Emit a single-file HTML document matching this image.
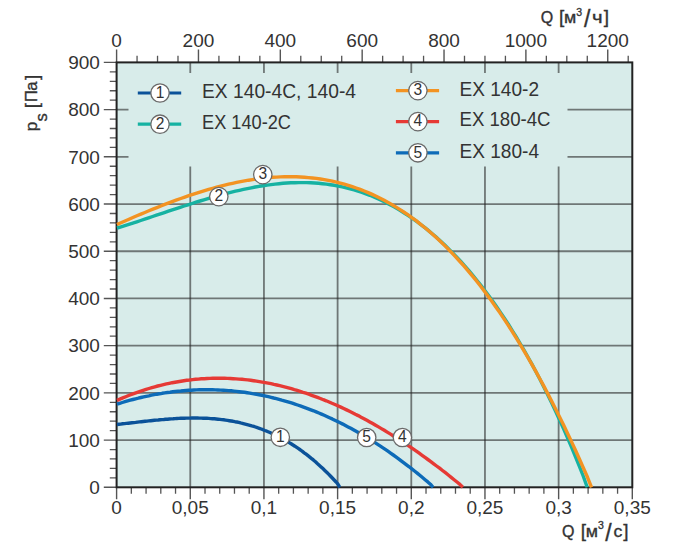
<!DOCTYPE html>
<html><head><meta charset="utf-8"><title>Fan curves EX</title>
<style>html,body{margin:0;padding:0;background:#fff;}svg{display:block;}</style>
</head><body>
<svg width="682" height="556" viewBox="0 0 682 556">
<rect x="0" y="0" width="682" height="556" fill="#fff"/>
<rect x="116.6" y="62.4" width="515.70" height="424.90" fill="#d8ecea"/>
<path d="M190.27,62.40V487.30M263.94,62.40V487.30M337.61,62.40V487.30M411.29,62.40V487.30M484.96,62.40V487.30M558.63,62.40V487.30" stroke="#222" stroke-opacity="0.58" stroke-width="1.8" fill="none"/>
<path d="M116.60,440.09H632.30M116.60,392.88H632.30M116.60,345.67H632.30M116.60,298.46H632.30M116.60,251.24H632.30M116.60,204.03H632.30M116.60,156.82H632.30M116.60,109.61H632.30" stroke="#222" stroke-opacity="0.58" stroke-width="1.8" fill="none"/>
<rect x="128.5" y="73" width="439.0" height="93.5" fill="#d8ecea"/>
<path d="M109.8,477.86H116.60M109.8,468.42H116.60M109.8,458.97H116.60M109.8,449.53H116.60M109.8,430.65H116.60M109.8,421.20H116.60M109.8,411.76H116.60M109.8,402.32H116.60M109.8,383.44H116.60M109.8,373.99H116.60M109.8,364.55H116.60M109.8,355.11H116.60M109.8,336.22H116.60M109.8,326.78H116.60M109.8,317.34H116.60M109.8,307.90H116.60M109.8,289.01H116.60M109.8,279.57H116.60M109.8,270.13H116.60M109.8,260.69H116.60M109.8,241.80H116.60M109.8,232.36H116.60M109.8,222.92H116.60M109.8,213.48H116.60M109.8,194.59H116.60M109.8,185.15H116.60M109.8,175.71H116.60M109.8,166.26H116.60M109.8,147.38H116.60M109.8,137.94H116.60M109.8,128.50H116.60M109.8,119.05H116.60M109.8,100.17H116.60M109.8,90.73H116.60M109.8,81.28H116.60M109.8,71.84H116.60M131.33,487.30V493.8M146.07,487.30V493.8M160.80,487.30V493.8M175.54,487.30V493.8M205.01,487.30V493.8M219.74,487.30V493.8M234.47,487.30V493.8M249.21,487.30V493.8M278.68,487.30V493.8M293.41,487.30V493.8M308.15,487.30V493.8M322.88,487.30V493.8M352.35,487.30V493.8M367.08,487.30V493.8M381.82,487.30V493.8M396.55,487.30V493.8M426.02,487.30V493.8M440.75,487.30V493.8M455.49,487.30V493.8M470.22,487.30V493.8M499.69,487.30V493.8M514.43,487.30V493.8M529.16,487.30V493.8M543.89,487.30V493.8M573.36,487.30V493.8M588.10,487.30V493.8M602.83,487.30V493.8M617.57,487.30V493.8M137.06,55.8V62.40M157.53,55.8V62.40M177.99,55.8V62.40M218.92,55.8V62.40M239.39,55.8V62.40M259.85,55.8V62.40M300.78,55.8V62.40M321.24,55.8V62.40M341.71,55.8V62.40M382.64,55.8V62.40M403.10,55.8V62.40M423.56,55.8V62.40M464.49,55.8V62.40M484.96,55.8V62.40M505.42,55.8V62.40M546.35,55.8V62.40M566.81,55.8V62.40M587.28,55.8V62.40M628.21,55.8V62.40" stroke="#555" stroke-width="1.3" fill="none"/>
<path d="M103.8,487.30H116.60M103.8,440.09H116.60M103.8,392.88H116.60M103.8,345.67H116.60M103.8,298.46H116.60M103.8,251.24H116.60M103.8,204.03H116.60M103.8,156.82H116.60M103.8,109.61H116.60M103.8,62.40H116.60M116.60,487.30V499.3M190.27,487.30V499.3M263.94,487.30V499.3M337.61,487.30V499.3M411.29,487.30V499.3M484.96,487.30V499.3M558.63,487.30V499.3M632.30,487.30V499.3M116.60,49.6V62.40M198.46,49.6V62.40M280.31,49.6V62.40M362.17,49.6V62.40M444.03,49.6V62.40M525.89,49.6V62.40M607.74,49.6V62.40" stroke="#555" stroke-width="1.4" fill="none"/>
<rect x="116.6" y="62.4" width="515.70" height="424.90" fill="none" stroke="#222" stroke-width="2"/>
<path d="M117.0,424.5 118.9,424.3 120.7,424.1 122.6,423.8 124.5,423.6 126.4,423.4 128.2,423.2 130.1,423.0 132.0,422.8 133.9,422.6 135.7,422.4 137.6,422.1 139.5,421.9 141.3,421.7 143.2,421.5 145.1,421.3 147.0,421.1 148.8,420.9 150.7,420.7 152.6,420.5 154.4,420.3 156.3,420.1 158.2,420.0 160.1,419.8 161.9,419.6 163.8,419.5 165.7,419.3 167.6,419.2 169.4,419.0 171.3,418.9 173.2,418.8 175.0,418.6 176.9,418.5 178.8,418.4 180.7,418.3 182.5,418.3 184.4,418.2 186.3,418.1 188.1,418.1 190.0,418.1 191.9,418.0 193.8,418.0 195.6,418.0 197.5,418.0 199.4,418.1 201.3,418.1 203.1,418.2 205.0,418.2 206.9,418.3 208.7,418.4 210.6,418.6 212.5,418.7 214.4,418.8 216.2,419.0 218.1,419.2 220.0,419.4 221.8,419.6 223.7,419.8 225.6,420.1 227.5,420.4 229.3,420.7 231.2,421.0 233.1,421.3 235.0,421.7 236.8,422.0 238.7,422.4 240.6,422.9 242.4,423.3 244.3,423.8 246.2,424.3 248.1,424.8 249.9,425.3 251.8,425.9 253.7,426.4 255.5,427.0 257.4,427.7 259.3,428.3 261.2,429.0 263.0,429.7 264.9,430.5 266.8,431.2 268.7,432.0 270.5,432.8 272.4,433.7 274.3,434.6 276.1,435.5 278.0,436.4 279.9,437.4 281.8,438.4 283.6,439.4 285.5,440.4 287.4,441.5 289.2,442.6 291.1,443.8 293.0,445.0 294.9,446.2 296.7,447.4 298.6,448.7 300.5,450.0 302.4,451.4 304.2,452.8 306.1,454.2 308.0,455.7 309.8,457.1 311.7,458.7 313.6,460.2 315.5,461.8 317.3,463.5 319.2,465.2 321.1,466.9 322.9,468.6 324.8,470.4 326.7,472.2 328.6,474.1 330.4,476.0 332.3,478.0 334.2,480.0 336.1,482.0 337.9,484.1 339.8,487.3" stroke="#0b5299" stroke-width="3.4" fill="none" stroke-linejoin="round"/>
<path d="M117.0,404.1 119.7,403.3 122.3,402.5 125.0,401.7 127.6,400.9 130.3,400.2 132.9,399.5 135.6,398.8 138.3,398.2 140.9,397.5 143.6,396.9 146.2,396.3 148.9,395.8 151.5,395.2 154.2,394.7 156.8,394.2 159.5,393.8 162.2,393.3 164.8,392.9 167.5,392.5 170.1,392.2 172.8,391.8 175.4,391.5 178.1,391.2 180.8,391.0 183.4,390.7 186.1,390.5 188.7,390.3 191.4,390.2 194.0,390.0 196.7,389.9 199.3,389.8 202.0,389.8 204.7,389.7 207.3,389.7 210.0,389.8 212.6,389.8 215.3,389.9 217.9,390.0 220.6,390.1 223.3,390.2 225.9,390.4 228.6,390.6 231.2,390.8 233.9,391.1 236.5,391.4 239.2,391.7 241.8,392.0 244.5,392.3 247.2,392.7 249.8,393.1 252.5,393.6 255.1,394.0 257.8,394.5 260.4,395.0 263.1,395.5 265.8,396.1 268.4,396.7 271.1,397.3 273.7,398.0 276.4,398.6 279.0,399.3 281.7,400.1 284.3,400.8 287.0,401.6 289.7,402.4 292.3,403.2 295.0,404.1 297.6,405.0 300.3,405.9 302.9,406.8 305.6,407.8 308.3,408.8 310.9,409.8 313.6,410.8 316.2,411.9 318.9,413.0 321.5,414.1 324.2,415.3 326.8,416.5 329.5,417.7 332.2,418.9 334.8,420.2 337.5,421.5 340.1,422.8 342.8,424.1 345.4,425.5 348.1,426.9 350.8,428.3 353.4,429.8 356.1,431.3 358.7,432.8 361.4,434.3 364.0,435.9 366.7,437.5 369.3,439.1 372.0,440.8 374.7,442.4 377.3,444.1 380.0,445.9 382.6,447.6 385.3,449.4 387.9,451.2 390.6,453.1 393.3,455.0 395.9,456.9 398.6,458.8 401.2,460.8 403.9,462.8 406.5,464.8 409.2,466.8 411.8,468.9 414.5,471.0 417.2,473.1 419.8,475.3 422.5,477.5 425.1,479.7 427.8,481.9 430.4,484.2 433.1,487.3" stroke="#0d6bb8" stroke-width="3.4" fill="none" stroke-linejoin="round"/>
<path d="M117.0,400.4 119.9,399.1 122.8,397.9 125.7,396.7 128.6,395.5 131.5,394.4 134.4,393.3 137.3,392.3 140.2,391.3 143.2,390.3 146.1,389.4 149.0,388.5 151.9,387.6 154.8,386.8 157.7,386.0 160.6,385.3 163.5,384.6 166.4,383.9 169.3,383.3 172.2,382.7 175.1,382.2 178.0,381.7 180.9,381.2 183.8,380.7 186.7,380.3 189.6,380.0 192.6,379.6 195.5,379.3 198.4,379.1 201.3,378.8 204.2,378.7 207.1,378.5 210.0,378.4 212.9,378.3 215.8,378.2 218.7,378.2 221.6,378.2 224.5,378.3 227.4,378.4 230.3,378.5 233.2,378.7 236.1,378.9 239.0,379.1 242.0,379.3 244.9,379.6 247.8,379.9 250.7,380.3 253.6,380.7 256.5,381.1 259.4,381.6 262.3,382.1 265.2,382.6 268.1,383.1 271.0,383.7 273.9,384.4 276.8,385.0 279.7,385.7 282.6,386.4 285.5,387.1 288.4,387.9 291.4,388.7 294.3,389.6 297.2,390.4 300.1,391.3 303.0,392.3 305.9,393.2 308.8,394.2 311.7,395.3 314.6,396.3 317.5,397.4 320.4,398.5 323.3,399.7 326.2,400.8 329.1,402.0 332.0,403.3 334.9,404.5 337.8,405.8 340.8,407.1 343.7,408.5 346.6,409.9 349.5,411.3 352.4,412.7 355.3,414.2 358.2,415.6 361.1,417.2 364.0,418.7 366.9,420.3 369.8,421.9 372.7,423.5 375.6,425.2 378.5,426.9 381.4,428.6 384.3,430.3 387.2,432.1 390.2,433.9 393.1,435.7 396.0,437.5 398.9,439.4 401.8,441.3 404.7,443.2 407.6,445.1 410.5,447.1 413.4,449.1 416.3,451.1 419.2,453.2 422.1,455.3 425.0,457.4 427.9,459.5 430.8,461.6 433.7,463.8 436.6,466.0 439.6,468.2 442.5,470.5 445.4,472.7 448.3,475.0 451.2,477.3 454.1,479.7 457.0,482.0 459.9,484.4 462.8,487.3" stroke="#e63a35" stroke-width="3.4" fill="none" stroke-linejoin="round"/>
<path d="M117.0,228.0 121.0,226.8 124.9,225.6 128.9,224.3 132.8,223.1 136.8,221.8 140.7,220.5 144.7,219.2 148.6,217.9 152.6,216.5 156.5,215.2 160.5,213.9 164.4,212.6 168.4,211.2 172.3,209.9 176.3,208.6 180.2,207.3 184.2,206.0 188.1,204.8 192.1,203.5 196.0,202.2 200.0,201.0 203.9,199.8 207.9,198.6 211.8,197.5 215.8,196.4 219.7,195.3 223.7,194.2 227.6,193.2 231.6,192.2 235.5,191.2 239.5,190.3 243.4,189.4 247.4,188.6 251.3,187.8 255.3,187.0 259.2,186.3 263.2,185.7 267.1,185.1 271.1,184.6 275.1,184.1 279.0,183.7 283.0,183.3 286.9,183.0 290.9,182.8 294.8,182.7 298.8,182.6 302.7,182.6 306.7,182.6 310.6,182.8 314.6,183.0 318.5,183.3 322.5,183.7 326.4,184.1 330.4,184.7 334.3,185.3 338.3,186.1 342.2,186.9 346.2,187.8 350.1,188.8 354.1,189.9 358.0,191.1 362.0,192.4 365.9,193.8 369.9,195.3 373.8,196.9 377.8,198.7 381.7,200.5 385.7,202.4 389.6,204.4 393.6,206.6 397.5,208.9 401.5,211.2 405.4,213.7 409.4,216.3 413.3,219.0 417.3,221.9 421.2,224.8 425.2,227.9 429.1,231.1 433.1,234.5 437.1,237.9 441.0,241.5 445.0,245.3 448.9,249.1 452.9,253.1 456.8,257.2 460.8,261.5 464.7,265.9 468.7,270.4 472.6,275.1 476.6,280.0 480.5,284.9 484.5,290.1 488.4,295.3 492.4,300.8 496.3,306.3 500.3,312.1 504.2,318.0 508.2,324.0 512.1,330.3 516.1,336.7 520.0,343.3 524.0,350.0 527.9,357.0 531.9,364.1 535.8,371.5 539.8,379.0 543.7,386.7 547.7,394.7 551.6,402.8 555.6,411.2 559.5,419.8 563.5,428.6 567.4,437.6 571.4,446.8 575.3,456.3 579.3,466.1 583.2,476.0 587.2,487.3" stroke="#16b2a2" stroke-width="3.4" fill="none" stroke-linejoin="round"/>
<path d="M117.0,224.5 121.0,222.7 125.0,221.0 129.0,219.2 132.9,217.5 136.9,215.8 140.9,214.1 144.9,212.5 148.9,210.8 152.9,209.2 156.9,207.6 160.9,206.0 164.8,204.4 168.8,202.9 172.8,201.4 176.8,199.9 180.8,198.5 184.8,197.1 188.8,195.7 192.8,194.4 196.7,193.1 200.7,191.8 204.7,190.6 208.7,189.4 212.7,188.3 216.7,187.2 220.7,186.1 224.7,185.1 228.6,184.2 232.6,183.3 236.6,182.4 240.6,181.6 244.6,180.9 248.6,180.2 252.6,179.6 256.6,179.0 260.5,178.5 264.5,178.0 268.5,177.7 272.5,177.3 276.5,177.1 280.5,176.9 284.5,176.8 288.5,176.7 292.4,176.7 296.4,176.8 300.4,177.0 304.4,177.2 308.4,177.6 312.4,178.0 316.4,178.4 320.4,179.0 324.3,179.6 328.3,180.4 332.3,181.2 336.3,182.1 340.3,183.1 344.3,184.2 348.3,185.3 352.3,186.6 356.2,188.0 360.2,189.4 364.2,191.0 368.2,192.6 372.2,194.4 376.2,196.2 380.2,198.2 384.2,200.3 388.1,202.4 392.1,204.7 396.1,207.1 400.1,209.6 404.1,212.2 408.1,214.9 412.1,217.8 416.1,220.7 420.0,223.8 424.0,227.0 428.0,230.3 432.0,233.8 436.0,237.3 440.0,241.0 444.0,244.9 448.0,248.8 451.9,252.9 455.9,257.1 459.9,261.5 463.9,265.9 467.9,270.6 471.9,275.3 475.9,280.2 479.9,285.3 483.8,290.4 487.8,295.8 491.8,301.3 495.8,306.9 499.8,312.6 503.8,318.6 507.8,324.6 511.8,330.8 515.7,337.2 519.7,343.7 523.7,350.4 527.7,357.2 531.7,364.1 535.7,371.2 539.7,378.5 543.7,385.9 547.6,393.4 551.6,401.1 555.6,409.0 559.6,417.0 563.6,425.1 567.6,433.4 571.6,441.9 575.6,450.5 579.5,459.3 583.5,468.2 587.5,477.3 591.5,487.3" stroke="#f39322" stroke-width="3.4" fill="none" stroke-linejoin="round"/>
<g font-family="'Liberation Sans', Arial, sans-serif" fill="#333">
<circle cx="280.3" cy="437.3" r="9.2" fill="#fff" stroke="#6a6a6a" stroke-width="1.3"/><text x="280.3" y="442.10" font-size="15.6" text-anchor="middle" fill="#333">1</text>
<circle cx="218.8" cy="196.6" r="9.2" fill="#fff" stroke="#6a6a6a" stroke-width="1.3"/><text x="218.8" y="201.40" font-size="15.6" text-anchor="middle" fill="#333">2</text>
<circle cx="262.8" cy="174.6" r="9.2" fill="#fff" stroke="#6a6a6a" stroke-width="1.3"/><text x="262.8" y="179.40" font-size="15.6" text-anchor="middle" fill="#333">3</text>
<circle cx="402.4" cy="437.5" r="9.2" fill="#fff" stroke="#6a6a6a" stroke-width="1.3"/><text x="402.4" y="442.30" font-size="15.6" text-anchor="middle" fill="#333">4</text>
<circle cx="366.7" cy="437.5" r="9.2" fill="#fff" stroke="#6a6a6a" stroke-width="1.3"/><text x="366.7" y="442.30" font-size="15.6" text-anchor="middle" fill="#333">5</text>
<path d="M137.8,93.0H181.2" stroke="#0b5299" stroke-width="3.2"/>
<circle cx="160.0" cy="93.0" r="9.2" fill="#fff" stroke="#6a6a6a" stroke-width="1.3"/><text x="160.0" y="97.80" font-size="15.6" text-anchor="middle" fill="#333">1</text>
<text x="202.00" y="97.80" font-size="20" textLength="154" lengthAdjust="spacingAndGlyphs">EX 140-4C, 140-4</text>
<path d="M137.8,124.2H181.2" stroke="#16b2a2" stroke-width="3.2"/>
<circle cx="160.0" cy="124.2" r="9.2" fill="#fff" stroke="#6a6a6a" stroke-width="1.3"/><text x="160.0" y="129.00" font-size="15.6" text-anchor="middle" fill="#333">2</text>
<text x="202.00" y="128.70" font-size="20" textLength="89" lengthAdjust="spacingAndGlyphs">EX 140-2C</text>
<path d="M395.9,90.6H439.1" stroke="#f39322" stroke-width="3.2"/>
<circle cx="417.9" cy="90.6" r="9.2" fill="#fff" stroke="#6a6a6a" stroke-width="1.3"/><text x="417.9" y="95.40" font-size="15.6" text-anchor="middle" fill="#333">3</text>
<text x="459.50" y="95.80" font-size="20" textLength="79.5" lengthAdjust="spacingAndGlyphs">EX 140-2</text>
<path d="M395.9,121.6H439.1" stroke="#e63a35" stroke-width="3.2"/>
<circle cx="417.9" cy="121.6" r="9.2" fill="#fff" stroke="#6a6a6a" stroke-width="1.3"/><text x="417.9" y="126.40" font-size="15.6" text-anchor="middle" fill="#333">4</text>
<text x="459.50" y="125.70" font-size="20" textLength="91" lengthAdjust="spacingAndGlyphs">EX 180-4C</text>
<path d="M395.9,152.8H439.1" stroke="#0d6bb8" stroke-width="3.2"/>
<circle cx="417.9" cy="152.8" r="9.2" fill="#fff" stroke="#6a6a6a" stroke-width="1.3"/><text x="417.9" y="157.60" font-size="15.6" text-anchor="middle" fill="#333">5</text>
<text x="459.50" y="157.80" font-size="20" textLength="79.5" lengthAdjust="spacingAndGlyphs">EX 180-4</text>
<text x="99.90" y="494.00" font-size="19" text-anchor="end">0</text>
<text x="99.90" y="446.79" font-size="19" text-anchor="end">100</text>
<text x="99.90" y="399.58" font-size="19" text-anchor="end">200</text>
<text x="99.90" y="352.37" font-size="19" text-anchor="end">300</text>
<text x="99.90" y="305.16" font-size="19" text-anchor="end">400</text>
<text x="99.90" y="257.94" font-size="19" text-anchor="end">500</text>
<text x="99.90" y="210.73" font-size="19" text-anchor="end">600</text>
<text x="99.90" y="163.52" font-size="19" text-anchor="end">700</text>
<text x="99.90" y="116.31" font-size="19" text-anchor="end">800</text>
<text x="99.90" y="69.10" font-size="19" text-anchor="end">900</text>
<text x="116.60" y="514.40" font-size="19" text-anchor="middle">0</text>
<text x="190.27" y="514.40" font-size="19" text-anchor="middle">0,05</text>
<text x="263.94" y="514.40" font-size="19" text-anchor="middle">0,1</text>
<text x="337.61" y="514.40" font-size="19" text-anchor="middle">0,15</text>
<text x="411.29" y="514.40" font-size="19" text-anchor="middle">0,2</text>
<text x="484.96" y="514.40" font-size="19" text-anchor="middle">0,25</text>
<text x="558.63" y="514.40" font-size="19" text-anchor="middle">0,3</text>
<text x="632.30" y="514.40" font-size="19" text-anchor="middle">0,35</text>
<text x="116.60" y="47.20" font-size="19" text-anchor="middle">0</text>
<text x="198.46" y="47.20" font-size="19" text-anchor="middle">200</text>
<text x="280.31" y="47.20" font-size="19" text-anchor="middle">400</text>
<text x="362.17" y="47.20" font-size="19" text-anchor="middle">600</text>
<text x="444.03" y="47.20" font-size="19" text-anchor="middle">800</text>
<text x="525.89" y="47.20" font-size="19" text-anchor="middle">1000</text>
<text x="607.74" y="47.20" font-size="19" text-anchor="middle">1200</text>
</g>
<g font-family="'Liberation Sans', Arial, sans-serif" fill="#333" font-weight="normal" stroke="#333" stroke-width="0.35">
<text x="546.95" y="23.00" font-size="16" text-anchor="middle">Q</text>
<text x="561.60" y="22.90" font-size="19" text-anchor="middle">[</text>
<text x="570.05" y="23.00" font-size="16" text-anchor="middle" textLength="12.2" lengthAdjust="spacingAndGlyphs">м</text>
<text x="579.20" y="16.30" font-size="10.5" text-anchor="middle">3</text>
<text x="587.15" y="26.80" font-size="23" text-anchor="middle">/</text>
<text x="597.20" y="23.00" font-size="16" text-anchor="middle" textLength="10.6" lengthAdjust="spacingAndGlyphs">ч</text>
<text x="606.30" y="22.90" font-size="19" text-anchor="middle">]</text>
<text x="568.25" y="536.70" font-size="16" text-anchor="middle">Q</text>
<text x="583.45" y="536.60" font-size="19" text-anchor="middle">[</text>
<text x="591.95" y="536.70" font-size="16" text-anchor="middle" textLength="12.2" lengthAdjust="spacingAndGlyphs">м</text>
<text x="600.95" y="529.40" font-size="10.5" text-anchor="middle">3</text>
<text x="608.35" y="540.50" font-size="23" text-anchor="middle">/</text>
<text x="617.80" y="536.70" font-size="16" text-anchor="middle" textLength="8.8" lengthAdjust="spacingAndGlyphs">с</text>
<text x="626.00" y="536.60" font-size="19" text-anchor="middle">]</text>
<text transform="translate(37.00,126.45) rotate(-90)" font-size="17" text-anchor="middle">p</text>
<text transform="translate(47.00,117.25) rotate(-90)" font-size="16.5" text-anchor="middle">s</text>
<text transform="translate(38.20,105.60) rotate(-90)" font-size="19" text-anchor="middle">[</text>
<text transform="translate(37.20,96.20) rotate(-90)" font-size="16.5" text-anchor="middle">П</text>
<text transform="translate(37.20,86.10) rotate(-90)" font-size="16.5" text-anchor="middle">а</text>
<text transform="translate(38.20,77.30) rotate(-90)" font-size="19" text-anchor="middle">]</text>
</g>
</svg>
</body></html>
